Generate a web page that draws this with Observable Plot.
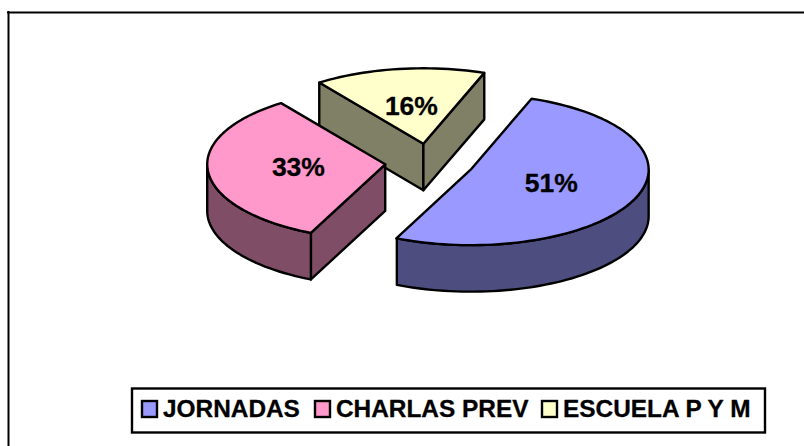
<!DOCTYPE html>
<html>
<head>
<meta charset="utf-8">
<script src="https://cdn.jsdelivr.net/npm/d3@7"></script>
<script src="https://cdn.jsdelivr.net/npm/@observablehq/plot@0.6"></script>
<style>html,body{margin:0;padding:0;background:#fff;overflow:hidden}svg{display:block}</style>
</head>
<body>
<div id="chart"></div>
<script>
const categories = ["JORNADAS", "CHARLAS PREV", "ESCUELA P Y M"];
const values = [51.3, 33.2, 15.5];
const topColors = ["#9999FF", "#FF99CC", "#FFFFCC"];
const sideColors = ["#4D4D80", "#804D66", "#808066"];
const legendX = [142, 315, 542];

const W = 804, H = 446;
const cx0 = 429, cy0 = 162, rx = 178, ry = 75.5, depth = 46.5, explode = 0.25;
const startDeg = 20;
const rad = d => d * Math.PI / 180;
const at = (c, t, dz = 0, r = 1) => ({x: c.x + rx * r * Math.sin(rad(t)), y: c.y - ry * r * Math.cos(rad(t)) + dz});
const total = d3.sum(values);

let acc = startDeg;
const slices = values.map((v, i) => {
  const a0 = acc, a1 = acc + v / total * 360;
  acc = a1;
  const m = (a0 + a1) / 2;
  const c = at({x: cx0, y: cy0}, m, 0, explode);
  return {i, a0, a1, m, c};
});

const arc = (c, a, b, dz = 0) => {
  const n = Math.max(2, Math.ceil(Math.abs(b - a) / 2));
  return d3.range(n + 1).map(k => at(c, a + (b - a) * k / n, dz));
};

const faces = [];
const add = (id, fill, pts) => pts.forEach(p => faces.push({id, fill, x: p.x, y: p.y}));
let fid = 0;
[2, 1, 0].forEach(i => {
  const s = slices[i], side = sideColors[i], c = s.c;
  const cb = {x: c.x, y: c.y + depth};
  const wall = t => {
    const p = at(c, t);
    add(fid++, side, [c, p, {x: p.x, y: p.y + depth}, cb, c]);
  };
  // radial walls that face the viewer
  if (Math.sin(rad(s.a0)) < 0) wall(s.a0);
  if (Math.sin(rad(s.a1)) > 0) wall(s.a1);
  // outer wall: the part of the rim on the front half
  let from = null, to = null;
  for (let t = s.a0; t <= s.a1; t += 0.25) {
    const n = ((t % 360) + 360) % 360;
    if (n >= 90 && n <= 270) { if (from === null) from = t; to = t; }
  }
  if (from !== null && to > from) {
    add(fid++, side, [...arc(c, from, to), ...arc(c, to, from, depth), at(c, from)]);
  }
  // top face
  add(fid++, topColors[i], [c, ...arc(c, s.a0, s.a1), c]);
});

const labels = slices.map(s => {
  const p = at(s.c, s.m, 0, 0.49);
  return {x: p.x, y: p.y - 0.5, text: Math.round(values[s.i]) + "%"};
});

const legend = categories.map((name, i) => ({name, x: legendX[i], fill: topColors[i]}));
const font = "'Liberation Sans', Arial, sans-serif";

const plot = Plot.plot({
  width: W, height: H, margin: 0,
  style: {background: "#fff", fontFamily: font},
  x: {domain: [0, W], range: [0, W], axis: null},
  y: {domain: [0, H], range: [0, H], axis: null},
  marks: [
    Plot.ruleY([12], {x1: 7, x2: W, stroke: "#000", strokeWidth: 2}),
    Plot.ruleX([8], {y1: 11, y2: H, stroke: "#000", strokeWidth: 2}),
    Plot.line(faces, {x: "x", y: "y", z: "id", fill: "fill", stroke: "#000", strokeWidth: 2.4, strokeLinejoin: "round", curve: "linear"}),
    Plot.text(labels, {x: "x", y: "y", text: "text", fontSize: 26.5, fontWeight: "bold", fill: "#000", stroke: "#000", strokeWidth: 0.3, textAnchor: "middle"}),
    Plot.rect([0], {x1: 132, x2: 765, y1: 388.5, y2: 432.5, fill: "#fff", stroke: "#000", strokeWidth: 2.4}),
    Plot.rect(legend, {x1: "x", x2: d => d.x + 15, y1: 401, y2: 417, fill: "fill", stroke: "#000", strokeWidth: 2.4}),
    Plot.text(legend, {x: d => d.x + 20.5, y: 408.5, text: "name", fontSize: 24.4, fontWeight: "bold", fill: "#000", stroke: "#000", strokeWidth: 0.3, textAnchor: "start"})
  ]
});
document.getElementById("chart").append(plot);
</script>
</body>
</html>
